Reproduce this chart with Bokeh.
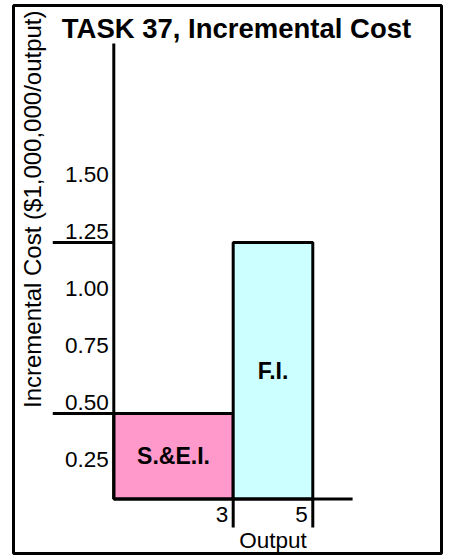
import math
from bokeh.plotting import figure
from bokeh.models import ColumnDataSource, Range1d
from bokeh.core.properties import value
from bokeh.embed import file_html
from bokeh.resources import INLINE

# ---- data ----
segments = ["S.&E.I.", "F.I."]
output_start = [0, 3]
output_end = [3, 5]
incremental_cost = [0.5, 1.25]
bar_colors = ["#FF99CC", "#CCFFFF"]
axis_level = 0.125          # level at which the output axis is drawn

ytick_values = [0.25, 0.50, 0.75, 1.00, 1.25, 1.50]
ytick_labels = ["0.25", "0.50", "0.75", "1.00", "1.25", "1.50"]
xtick_values = [3, 5]
xtick_labels = ["3", "5"]

title_text = "TASK 37, Incremental Cost"
ylabel_text = "Incremental Cost ($1,000,000/output)"
xlabel_text = "Output"

# ---- layout ----
FONT = value("Liberation Sans")
x_axis_end = 6
y_axis_top = 2.123

p = figure(width=455, height=556,
           x_range=Range1d(-2.52, 8.234), y_range=Range1d(-0.114, 2.2895),
           x_axis_type=None, y_axis_type=None,
           output_backend="svg", toolbar_location=None,
           min_border_left=13, min_border_right=14, min_border_top=5, min_border_bottom=3,
           outline_line_color="black", outline_line_width=3,
           background_fill_color="white", border_fill_color="white")

src = ColumnDataSource(dict(
    seg=segments, left=output_start, right=output_end,
    bottom=[axis_level] * len(segments), top=incremental_cost, color=bar_colors,
    xc=[(a + b) / 2 for a, b in zip(output_start, output_end)],
    yc=[(axis_level + t) / 2 for t in incremental_cost],
))

p.quad(left="left", right="right", bottom="bottom", top="top", source=src,
       fill_color="color", line_color="black", line_width=3)

# axis lines
p.segment(x0=[0, 0], y0=[axis_level, axis_level], x1=[0, x_axis_end], y1=[y_axis_top, axis_level],
          line_color="black", line_width=3)

# level marks at the bar tops, to the left of the cost axis
p.segment(x0=[-1.533] * len(incremental_cost), y0=incremental_cost,
          x1=[0] * len(incremental_cost), y1=incremental_cost,
          line_color="black", line_width=3)

# output ticks
p.segment(x0=xtick_values, y0=[0] * len(xtick_values), x1=xtick_values,
          y1=[axis_level] * len(xtick_values), line_color="black", line_width=3)

# y tick labels
p.text(x=[0] * len(ytick_values), y=ytick_values, text=ytick_labels,
       x_offset=-5, y_offset=-11, text_align="right", text_baseline="alphabetic",
       text_font=FONT, text_font_size="22.5px", text_color="black")

# x tick labels
p.text(x=xtick_values, y=[0] * len(xtick_values), text=xtick_labels,
       x_offset=-5, y_offset=-13, text_align="right", text_baseline="alphabetic",
       text_font=FONT, text_font_size="22.5px", text_color="black")

# x label
p.text(x=[(xtick_values[0] + xtick_values[1]) / 2], y=[0], text=[xlabel_text],
       y_offset=13, text_align="center", text_baseline="alphabetic",
       text_font=FONT, text_font_size="22.5px", text_color="black")

# y label (rotated)
p.text(x=[-2.04], y=[0.524], text=[ylabel_text], angle=math.pi / 2,
       text_align="left", text_baseline="alphabetic",
       text_font=FONT, text_font_size="24px", text_color="black")

# title
p.text(x=[3.083], y=[2.189], text=[title_text], text_align="center", text_baseline="alphabetic",
       text_font=FONT, text_font_size="27.5px", text_font_style="bold", text_color="black")

# bar labels
p.text(x="xc", y="yc", text="seg", source=src, text_align="center", text_baseline="middle",
       text_font=FONT, text_font_size="23px", text_font_style="bold", text_color="black")

open("out.html", "w").write(file_html(p, INLINE))
